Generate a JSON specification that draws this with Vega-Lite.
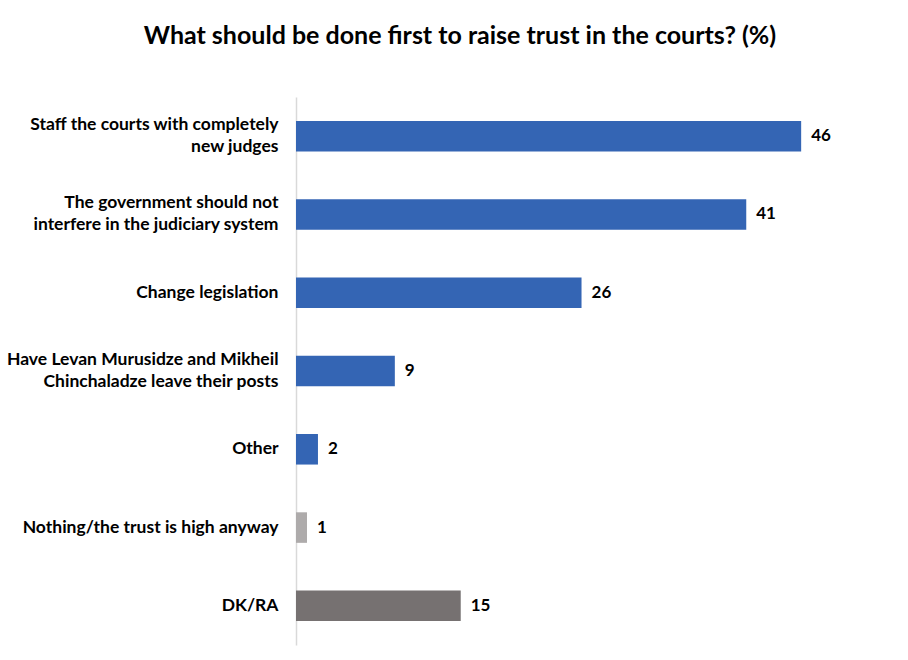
{
  "$schema": "https://vega.github.io/schema/vega-lite/v6.json",
  "autosize": {"type": "none"},
  "width": 604,
  "height": 548,
  "padding": {"left": 296, "top": 97, "right": 8, "bottom": 15},
  "background": "white",
  "title": {
    "text": "What should be done first to raise trust in the courts? (%)",
    "font": "Lato",
    "fontSize": 25,
    "fontWeight": "bold",
    "color": "#000000",
    "anchor": "middle",
    "dx": -138,
    "offset": 48
  },
  "data": {
    "values": [
      {"answer": "Staff the courts with completely|new judges", "pct": 46, "group": "substantive"},
      {"answer": "The government should not|interfere in the judiciary system", "pct": 41, "group": "substantive"},
      {"answer": "Change legislation", "pct": 26, "group": "substantive"},
      {"answer": "Have Levan Murusidze and Mikheil|Chinchaladze leave their posts", "pct": 9, "group": "substantive"},
      {"answer": "Other", "pct": 2, "group": "substantive"},
      {"answer": "Nothing/the trust is high anyway", "pct": 1, "group": "nothing"},
      {"answer": "DK/RA", "pct": 15, "group": "dkra"}
    ]
  },
  "encoding": {
    "y": {
      "field": "answer",
      "type": "nominal",
      "sort": null,
      "scale": {"paddingInner": 0.61, "paddingOuter": 0.305},
      "axis": {
        "title": null,
        "ticks": false,
        "domainColor": "#D9D9D9",
        "domainWidth": 1.5,
        "labelFont": "Lato",
        "labelFontSize": 17.5,
        "labelFontWeight": "bold",
        "labelColor": "#000000",
        "labelPadding": 18,
        "labelLimit": 300,
        "labelLineHeight": 22,
        "labelOffset": {"condition": {"test": "indexof(datum.label, '|') >= 0", "value": -11}, "value": 0},
        "labelExpr": "split(datum.label, '|')"
      }
    },
    "x": {
      "field": "pct",
      "type": "quantitative",
      "scale": {"domain": [0, 55]},
      "axis": null
    }
  },
  "layer": [
    {
      "mark": {"type": "bar"},
      "encoding": {
        "color": {
          "field": "group",
          "type": "nominal",
          "scale": {"domain": ["substantive", "nothing", "dkra"], "range": ["#3465B4", "#AEABAB", "#767171"]},
          "legend": null
        }
      }
    },
    {
      "mark": {"type": "text", "align": "left", "dx": 10, "font": "Lato", "fontSize": 17, "fontWeight": "bold", "color": "#000000"},
      "encoding": {"text": {"field": "pct", "type": "quantitative"}}
    }
  ],
  "config": {"view": {"stroke": null}}
}
